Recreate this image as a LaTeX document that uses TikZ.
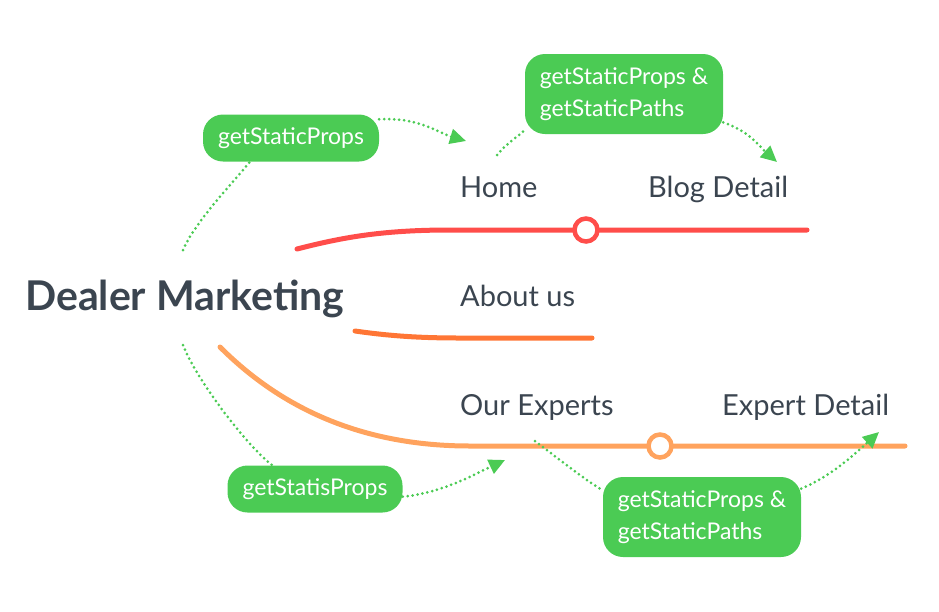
\documentclass[tikz,border=0pt]{standalone}
\usepackage{fontspec}
\setmainfont{Lato}
\usetikzlibrary{arrows.meta,positioning}
\definecolor{hookgreen}{HTML}{4BCB54}
\definecolor{inkgray}{HTML}{3B4550}
\definecolor{homered}{HTML}{FF4D4A}
\definecolor{aboutorange}{HTML}{FF7635}
\definecolor{expertorange}{HTML}{FFA35E}

\begin{document}
\begin{tikzpicture}[x=1pt,y=-1pt,
  page/.style={text=inkgray,font=\fontsize{29}{34}\selectfont,inner sep=0pt,anchor=base west},
  root/.style={text=inkgray,font=\fontsize{41}{46}\selectfont\bfseries,inner sep=0pt,anchor=base west},
  hook/.style={fill=hookgreen,text=white,rounded corners=20pt,font=\fontsize{23}{32}\selectfont,align=left,inner sep=0pt},
  flow/.style={hookgreen,line width=3pt,line cap=round,dash pattern=on 0pt off 5pt},
  flowto/.style={flow,-{Triangle[length=16pt,width=15pt]}},
  branch/.style={line width=5pt,line cap=round},
  stop/.style={circle,line width=4.5pt,fill=white,minimum size=23pt,inner sep=0pt}
]
\useasboundingbox (0,0) rectangle (939,611);

\node[root] (dealer) at (25,310) {Dealer Marketing};
\node[page] (home) at (460,197) {Home};
\node[page] (blog) at (648,197) {Blog Detail};
\node[page] (about) at (460,306) {About us};
\node[page] (experts) at (460,415) {Our Experts};
\node[page] (detail) at (722,415) {Expert Detail};

\coordinate (dealertop) at (183,250);
\coordinate (dealerbottom) at (183,345);
\coordinate (homein) at (466,141);
\coordinate (homeout) at (497,155);
\coordinate (blogin) at (777,162);
\coordinate (expertsin) at (505,460);
\coordinate (expertsout) at (535,441);
\coordinate (detailin) at (879,432);

\coordinate (homestart) at (297,249);
\coordinate (homeend) at (807,230);
\coordinate (aboutstart) at (355,331);
\coordinate (aboutend) at (592,338);
\coordinate (expertstart) at (220,347);
\coordinate (expertend) at (905,446);

\draw[branch,homered] (homestart) .. controls +(43,-11) and +(-70,0) .. (450,230) -- (homeend);
\draw[branch,aboutorange] (aboutstart) .. controls +(35,5) and +(-40,0) .. (460,338) -- (aboutend);
\draw[branch,expertorange] (expertstart) .. controls +(60,60) and +(-110,0) .. (470,446) -- (expertend);
\node[stop,draw=homered] (homestop) at (586,230) {};
\node[stop,draw=expertorange] (expertstop) at (660,446) {};

\node[hook,minimum width=176pt,minimum height=47pt] (propshome) at (291,138) {getStaticProps};
\node[hook,minimum width=198pt,minimum height=80pt] (pathsblog) at (624,94) {getStaticProps \&\\getStaticPaths};
\node[hook,minimum width=175pt,minimum height=47pt] (propsexperts) at (315,489) {getStatisProps};
\node[hook,minimum width=198pt,minimum height=80pt] (pathsdetail) at (702,517) {getStaticProps \&\\getStaticPaths};

\draw[flow] (dealertop) .. controls +(12,-28) and +(-18,22) .. (propshome.210);
\draw[flowto] (propshome.12) .. controls +(40,-2) and +(-30,-9) .. (homein);
\draw[flow] (homeout) .. controls +(10,-12) and +(-10,9) .. (pathsblog.200);
\draw[flowto] (pathsblog.-16) .. controls +(25,8) and +(-18,-16) .. (blogin);
\draw[flow] (dealerbottom) .. controls +(12,32) and +(-28,-22) .. (propsexperts.151);
\draw[flowto] (propsexperts.-5) .. controls +(40,-4) and +(-32,15) .. (expertsin);
\draw[flow] (expertsout) .. controls +(20,15) and +(-20,-12) .. (pathsdetail.165);
\draw[flowto] (pathsdetail.16) .. controls +(30,-12) and +(-22,20) .. (detailin);
\end{tikzpicture}
\end{document}
